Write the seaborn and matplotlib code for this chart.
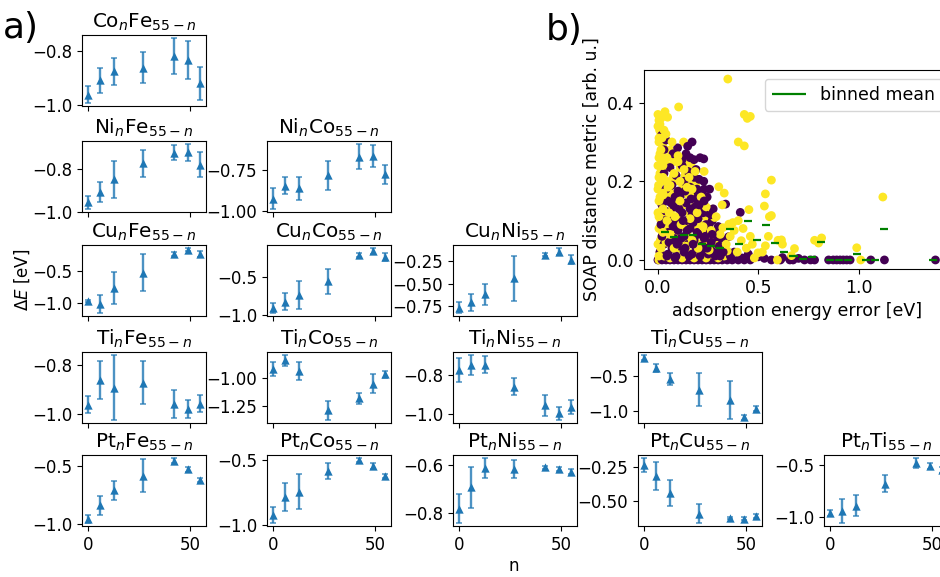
import numpy as np
import pandas as pd
import matplotlib
matplotlib.use("Agg")
import matplotlib.pyplot as plt
import seaborn as sns

# ---------------------------------------------------------------------------
# Panel a: adsorption energy vs. composition for binary 55-atom clusters
# ---------------------------------------------------------------------------
n_atoms = [0, 6, 13, 27, 42, 49, 55]

first_elements = ["Co", "Ni", "Cu", "Ti", "Pt"]
second_elements = ["Fe", "Co", "Ni", "Cu", "Ti"]

co_fe_E = [-0.961, -0.908, -0.876, -0.863, -0.820, -0.834, -0.920]
co_fe_err = [0.030, 0.046, 0.050, 0.057, 0.066, 0.070, 0.062]

ni_fe_E = [-0.956, -0.906, -0.847, -0.771, -0.721, -0.720, -0.778]
ni_fe_err = [0.031, 0.048, 0.088, 0.065, 0.035, 0.039, 0.058]
ni_co_E = [-0.925, -0.848, -0.862, -0.783, -0.668, -0.662, -0.777]
ni_co_err = [0.063, 0.052, 0.070, 0.091, 0.076, 0.068, 0.060]

cu_fe_E = [-0.968, -1.016, -0.760, -0.524, -0.232, -0.168, -0.232]
cu_fe_err = [0.020, 0.137, 0.250, 0.287, 0.025, 0.025, 0.045]
cu_co_E = [-0.910, -0.827, -0.740, -0.555, -0.204, -0.159, -0.235]
cu_co_err = [0.065, 0.115, 0.180, 0.166, 0.025, 0.040, 0.050]
cu_ni_E = [-0.770, -0.712, -0.619, -0.440, -0.173, -0.142, -0.231]
cu_ni_err = [0.058, 0.100, 0.120, 0.250, 0.020, 0.040, 0.050]

ti_fe_E = [-0.963, -0.864, -0.893, -0.874, -0.960, -0.982, -0.959]
ti_fe_err = [0.035, 0.078, 0.132, 0.088, 0.058, 0.037, 0.035]
ti_co_E = [-0.924, -0.846, -0.939, -1.284, -1.180, -1.049, -0.968]
ti_co_err = [0.062, 0.046, 0.077, 0.084, 0.049, 0.084, 0.033]
ti_ni_E = [-0.774, -0.750, -0.748, -0.861, -0.957, -0.998, -0.965]
ti_ni_err = [0.061, 0.050, 0.044, 0.044, 0.053, 0.033, 0.035]
ti_cu_E = [-0.233, -0.379, -0.539, -0.690, -0.835, -1.087, -0.961]
ti_cu_err = [0.035, 0.055, 0.080, 0.235, 0.272, 0.035, 0.040]

pt_fe_E = [-0.953, -0.838, -0.710, -0.584, -0.457, -0.531, -0.622]
pt_fe_err = [0.033, 0.082, 0.083, 0.138, 0.020, 0.020, 0.015]
pt_co_E = [-0.921, -0.786, -0.746, -0.588, -0.505, -0.551, -0.627]
pt_co_err = [0.061, 0.108, 0.132, 0.063, 0.015, 0.022, 0.015]
pt_ni_E = [-0.780, -0.693, -0.612, -0.616, -0.610, -0.617, -0.628]
pt_ni_err = [0.059, 0.086, 0.040, 0.037, 0.007, 0.007, 0.010]
pt_cu_E = [-0.238, -0.317, -0.442, -0.589, -0.621, -0.626, -0.609]
pt_cu_err = [0.049, 0.103, 0.095, 0.067, 0.010, 0.010, 0.015]
pt_ti_E = [-0.961, -0.945, -0.893, -0.680, -0.481, -0.513, -0.550]
pt_ti_err = [0.030, 0.114, 0.101, 0.086, 0.045, 0.030, 0.030]

energies = {
    ("Co", "Fe"): (co_fe_E, co_fe_err),
    ("Ni", "Fe"): (ni_fe_E, ni_fe_err),
    ("Ni", "Co"): (ni_co_E, ni_co_err),
    ("Cu", "Fe"): (cu_fe_E, cu_fe_err),
    ("Cu", "Co"): (cu_co_E, cu_co_err),
    ("Cu", "Ni"): (cu_ni_E, cu_ni_err),
    ("Ti", "Fe"): (ti_fe_E, ti_fe_err),
    ("Ti", "Co"): (ti_co_E, ti_co_err),
    ("Ti", "Ni"): (ti_ni_E, ti_ni_err),
    ("Ti", "Cu"): (ti_cu_E, ti_cu_err),
    ("Pt", "Fe"): (pt_fe_E, pt_fe_err),
    ("Pt", "Co"): (pt_co_E, pt_co_err),
    ("Pt", "Ni"): (pt_ni_E, pt_ni_err),
    ("Pt", "Cu"): (pt_cu_E, pt_cu_err),
    ("Pt", "Ti"): (pt_ti_E, pt_ti_err),
}

# ---------------------------------------------------------------------------
# Panel b: SOAP distance vs. adsorption energy error
# ---------------------------------------------------------------------------
dark_err = [0.00, 0.02, 0.04, 0.06, 0.08, 0.10, 0.12, 0.14, 0.16, 0.18, 0.20, 0.22,
            0.24, 0.26, 0.28, 0.30, 0.32, 0.345, 0.37, 0.40, 0.43, 0.46, 0.565, 0.61,
            0.657, 0.673, 0.73, 0.76, 0.78, 0.85, 0.873, 0.89, 0.907, 0.923, 0.94,
            0.957, 1.06, 1.128, 1.382,
            0.01, 0.03, 0.05, 0.07, 0.09, 0.11, 0.13, 0.15, 0.17, 0.19, 0.21, 0.23,
            0.25, 0.27, 0.29, 0.31, 0.36, 0.38, 0.42, 0.45, 0.50, 0.53, 0.62, 0.70,
            0.02, 0.05, 0.08, 0.10, 0.13, 0.16, 0.18, 0.20, 0.23, 0.26, 0.29, 0.352, 0.282,
            0.03, 0.06, 0.09, 0.12, 0.14, 0.17, 0.20, 0.24, 0.27, 0.30,
            0.02, 0.05, 0.08, 0.11, 0.14, 0.16, 0.19, 0.22, 0.25, 0.337, 0.41,
            0.04, 0.07, 0.10, 0.13, 0.16, 0.20, 0.23, 0.257, 0.215,
            0.03, 0.06, 0.09, 0.12, 0.15, 0.18, 0.228,
            0.018, 0.04, 0.17, 0.098, 0.16, 0.18, 0.21, 0.12, 0.075, 0.03, 0.228, 0.148,
            0.015, 0.035, 0.055, 0.075, 0.085, 0.105, 0.115, 0.135, 0.145, 0.155,
            0.165, 0.175, 0.185, 0.195, 0.205, 0.215, 0.225, 0.235, 0.245, 0.255,
            0.265, 0.275, 0.285, 0.295, 0.305, 0.315, 0.325,
            0.14, 0.19, 0.065, 0.095, 0.125, 0.135, 0.175,
            0.205, 0.245, 0.265, 0.085, 0.045, 0.195, 0.23, 0.27]
dark_soap = [0.0] * 39 + [
            0.020, 0.040, 0.015, 0.030, 0.010, 0.035, 0.020, 0.040, 0.015, 0.030, 0.010, 0.025,
            0.015, 0.030, 0.020, 0.010, 0.010, 0.020, 0.005, 0.015, 0.008, 0.004, 0.006, 0.004,
            0.060, 0.070, 0.055, 0.075, 0.060, 0.080, 0.050, 0.065, 0.055, 0.070, 0.045, 0.059, 0.073,
            0.100, 0.110, 0.095, 0.120, 0.100, 0.115, 0.105, 0.090, 0.100, 0.085,
            0.140, 0.150, 0.135, 0.160, 0.145, 0.130, 0.155, 0.140, 0.120, 0.142, 0.121,
            0.180, 0.190, 0.175, 0.200, 0.185, 0.170, 0.180, 0.180, 0.172,
            0.220, 0.235, 0.215, 0.240, 0.225, 0.210, 0.200,
            0.317, 0.305, 0.300, 0.285, 0.260, 0.255, 0.260, 0.255, 0.270, 0.280, 0.257, 0.289,
            0.090, 0.125, 0.045, 0.085, 0.160, 0.130, 0.055, 0.175, 0.075, 0.010,
            0.155, 0.095, 0.135, 0.070, 0.205, 0.035, 0.120, 0.060, 0.160, 0.090,
            0.045, 0.130, 0.010, 0.060, 0.035, 0.055, 0.020,
            0.270, 0.230, 0.145, 0.040, 0.100, 0.030, 0.040,
            0.140, 0.030, 0.115, 0.005, 0.010, 0.180, 0.150, 0.065]

bright_err = [0.005, 0.010, 0.000, 0.020, 0.005, 0.015, 0.000, 0.020, 0.010, 0.000, 0.020,
              0.010, 0.000, 0.020, 0.010, 0.025, 0.005, 0.015, 0.000, 0.005, 0.000, 0.035,
              0.048, 0.103, 0.015, 0.008, 0.012, 0.003, 0.018,
              0.03, 0.06, 0.09, 0.12, 0.15, 0.18, 0.21, 0.24, 0.27, 0.30, 0.33,
              0.04, 0.07, 0.10, 0.125, 0.15, 0.19, 0.22, 0.25, 0.28,
              0.035, 0.065, 0.095, 0.12, 0.15, 0.18, 0.21, 0.235, 0.26,
              0.04, 0.07, 0.10, 0.13, 0.155, 0.18, 0.21, 0.235,
              0.035, 0.065, 0.09, 0.12, 0.15, 0.175, 0.20,
              0.045, 0.075, 0.105, 0.135, 0.16, 0.19,
              0.05, 0.08, 0.11, 0.128, 0.14, 0.06, 0.09, 0.165,
              0.348, 0.43, 0.445, 0.46, 0.40, 0.43, 0.565, 0.535, 0.53, 0.555, 0.453,
              0.303, 0.27, 0.282, 0.353, 0.373, 0.323, 0.415, 0.535, 0.598, 0.395,
              0.498, 0.48, 0.345, 0.424, 0.30, 0.46, 0.565,
              0.615, 0.62, 0.68, 0.665, 0.595, 0.78, 0.815, 0.80, 0.99, 1.01, 1.12,
              0.005, 0.015, 0.025, 0.005, 0.025, 0.005, 0.025, 0.005, 0.025, 0.005,
              0.025, 0.015, 0.005, 0.020, 0.030, 0.010, 0.055, 0.045, 0.060, 0.080,
              0.085, 0.110, 0.115, 0.140, 0.145, 0.160, 0.170, 0.185, 0.195, 0.200,
              0.215, 0.225, 0.240, 0.255, 0.265, 0.290, 0.310, 0.320, 0.340, 0.360,
              0.380, 0.400, 0.440, 0.470, 0.520, 0.550, 0.330, 0.230, 0.100, 0.070,
              0.040, 0.130, 0.170, 0.050,
              0.060, 0.080, 0.100, 0.110, 0.045, 0.025, 0.025, 0.155]
bright_soap = [0.000, 0.020, 0.040, 0.060, 0.080, 0.100, 0.120, 0.140, 0.160, 0.180, 0.200,
               0.220, 0.240, 0.250, 0.270, 0.290, 0.300, 0.320, 0.340, 0.355, 0.370, 0.377,
               0.363, 0.389, 0.360, 0.330, 0.050, 0.190, 0.230,
               0.010, 0.005, 0.025, 0.005, 0.020, 0.005, 0.020, 0.005, 0.015, 0.005, 0.010,
               0.045, 0.050, 0.040, 0.050, 0.060, 0.045, 0.040, 0.050, 0.060,
               0.080, 0.090, 0.070, 0.085, 0.090, 0.080, 0.090, 0.075, 0.095,
               0.120, 0.130, 0.110, 0.140, 0.120, 0.135, 0.125, 0.110,
               0.160, 0.170, 0.155, 0.180, 0.165, 0.160, 0.150,
               0.200, 0.210, 0.200, 0.215, 0.200, 0.195,
               0.240, 0.250, 0.235, 0.300, 0.250, 0.280, 0.265, 0.240,
               0.460, 0.370, 0.360, 0.365, 0.300, 0.290, 0.203, 0.168, 0.137, 0.110, 0.128,
               0.186, 0.129, 0.108, 0.091, 0.095, 0.082, 0.049, 0.036, 0.050, 0.020,
               0.018, 0.005, 0.023, 0.080, 0.038, 0.060, 0.113,
               0.051, 0.040, 0.029, 0.011, 0.000, 0.050, 0.056, 0.043, 0.031, 0.000, 0.160,
               0.010, 0.030, 0.070, 0.110, 0.130, 0.150, 0.170, 0.210, 0.210, 0.260,
               0.260, 0.280, 0.310, 0.310, 0.330, 0.345, 0.120, 0.100, 0.065, 0.030,
               0.110, 0.150, 0.090, 0.035, 0.185, 0.105, 0.050, 0.225, 0.120, 0.030,
               0.160, 0.085, 0.135, 0.025, 0.075, 0.110, 0.065, 0.140, 0.040, 0.060,
               0.075, 0.100, 0.030, 0.040, 0.020, 0.060, 0.170, 0.225, 0.265, 0.300,
               0.320, 0.230, 0.180, 0.185,
               0.190, 0.220, 0.250, 0.200, 0.260, 0.240, 0.165, 0.210]

bin_centers = [0.035, 0.082, 0.128, 0.175, 0.218, 0.262, 0.310, 0.357, 0.402, 0.448,
               0.493, 0.537, 0.582, 0.630, 0.675, 0.720, 0.765, 0.810, 0.855, 0.900,
               0.945, 0.990, 1.035, 1.080, 1.125, 1.370]
bin_means = [0.071, 0.059, 0.064, 0.063, 0.041, 0.035, 0.030, 0.079, 0.041, 0.098,
             0.052, 0.090, 0.044, 0.020, 0.009, 0.002, 0.008, 0.046, 0.000, 0.000,
             0.000, 0.016, 0.000, 0.000, 0.079, 0.000]

# ---------------------------------------------------------------------------
W, H = 940, 577
fig = plt.figure(figsize=(W / 100, H / 100), dpi=100)
blue = "#1f77b4"

row_top = [35, 141, 245, 352, 455]
col_left = [82, 267, 453, 638, 824]
ax_w, ax_h = 124, 71


def px_rect(left, top, width, height):
    return [left / W, 1 - (top + height) / H, width / W, height / H]


for r, first in enumerate(first_elements):
    for c in range(r + 1):
        second = second_elements[c]
        E, err = energies[(first, second)]
        ax = fig.add_axes(px_rect(col_left[c], row_top[r], ax_w, ax_h))
        ax.errorbar(n_atoms, E, yerr=err, fmt="none", ecolor=blue,
                    elinewidth=1.7, capsize=2.2, capthick=1.1, alpha=0.8)
        sns.scatterplot(x=n_atoms, y=E, marker="^", color=blue, s=36,
                        linewidth=0, ax=ax, zorder=3)
        ax.set_title(f"{first}$_n${second}$_{{55-n}}$", fontsize=14.4, pad=5)
        ax.tick_params(labelsize=12)
        if r < 4:
            ax.tick_params(labelbottom=False)

fig.text(22 / W, 1 - 280 / H, r"$\Delta E$ [eV]", rotation=90,
         ha="center", va="center", fontsize=12)
fig.text(514 / W, 1 - 566 / H, "n", ha="center", va="center", fontsize=12)
fig.text(3 / W, 1 - 28 / H, "a)", ha="left", va="center", fontsize=26)
fig.text(546 / W, 1 - 30 / H, "b)", ha="left", va="center", fontsize=26)

# Panel b
axb = fig.add_axes(px_rect(644, 70, 307, 199))
dark = pd.DataFrame({"err": dark_err, "soap": dark_soap, "set": "dark"})
bright = pd.DataFrame({"err": bright_err, "soap": bright_soap, "set": "bright"})
dark["order"] = np.arange(len(dark)) * 2
bright["order"] = np.arange(len(bright)) * 2 + 1
points = pd.concat([dark, bright]).sort_values("order")
sns.scatterplot(data=points, x="err", y="soap", hue="set",
                palette={"dark": "#440154", "bright": "#fde725"},
                s=40, linewidth=0, legend=False, ax=axb)
axb.hlines(bin_means, [c - 0.02 for c in bin_centers],
           [c + 0.02 for c in bin_centers], colors="green", linewidth=1.6,
           label="binned mean", zorder=3)
axb.set_xlabel("adsorption energy error [eV]", fontsize=12.5)
axb.set_ylabel("SOAP distance metric [arb. u.]", fontsize=12.5)
axb.tick_params(labelsize=12.5)
axb.legend(loc="upper right", fontsize=12.5)

fig.savefig("out.png", dpi=100)
